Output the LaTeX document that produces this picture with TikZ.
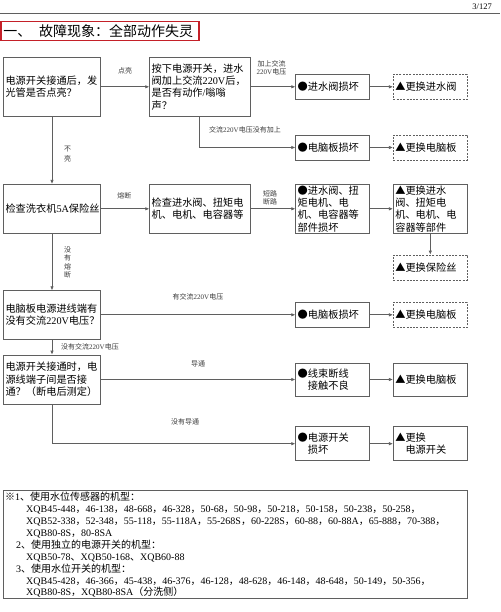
\documentclass[tikz,border=0pt]{standalone}
\usepackage{fontspec}
\setmainfont{Liberation Serif}
\newfontfamily\cjkfont{Noto Sans CJK SC}
\usetikzlibrary{arrows.meta}
% automatic switch between Latin (Liberation Serif) and CJK (Noto Sans CJK SC)
\XeTeXinterchartokenstate=1
\newXeTeXintercharclass\mycjkclass
\newcount\mycnt
\def\setcjkrange#1#2{\mycnt=#1\relax
  \loop\XeTeXcharclass\mycnt=\mycjkclass\relax
  \ifnum\mycnt<#2\relax\advance\mycnt by 1\relax\repeat}
\setcjkrange{"4E00}{"9FFF}
\setcjkrange{"3000}{"303F}
\setcjkrange{"FF00}{"FFEF}
\XeTeXcharclass"203B=\mycjkclass
\XeTeXcharclass"25CF=\mycjkclass
\XeTeXcharclass"25B2=\mycjkclass
\XeTeXinterchartoks 0 \mycjkclass = {\cjkfont}
\XeTeXinterchartoks 4095 \mycjkclass = {\cjkfont}
\XeTeXinterchartoks \mycjkclass 0 = {\rmfamily}
\XeTeXinterchartoks \mycjkclass 4095 = {\rmfamily}
\definecolor{linegray}{RGB}{95,95,95}
\definecolor{titlered}{RGB}{196,32,40}
\definecolor{labelgray}{RGB}{60,60,60}
\begin{document}
\begin{tikzpicture}[x=1pt,y=-1pt,
  box/.style={draw=linegray, line width=0.7pt, inner xsep=2pt, inner ysep=0pt,
    align=left, font=\fontsize{10.2}{12.3}\selectfont, text=black},
  dbox/.style={dash pattern=on 2pt off 1.3pt},
  lbox/.style={box, minimum width=97pt, text width=93pt},
  mbox/.style={box, minimum width=100.3pt, text width=96.3pt},
  cbox/.style={box, minimum width=73.6pt, text width=69.6pt},
  rbox/.style={box, minimum width=74pt, text width=70pt},
  lbl/.style={inner sep=0pt, font=\fontsize{7}{8}\selectfont, text=labelgray, align=center},
  arr/.style={draw=linegray, line width=0.7pt, -{Latex[length=4pt,width=3.4pt]}},
  notetext/.style={inner sep=0pt, anchor=base west, font=\fontsize{10}{12}\selectfont}
]
\useasboundingbox (0,0) rectangle (500,612);
\fill[white] (0,0) rectangle (500,612);

% header
\coordinate (tl) at (0,13.3);
\coordinate (tr) at (500,13.3);
\draw[linegray, line width=0.8pt] (tl) -- (tr);
\node[anchor=base east, inner sep=0pt, font=\fontsize{8.5}{10}\selectfont] (pg) at (492,9.5) {3/127};
\node[draw=titlered, line width=1.8pt, minimum width=198pt, minimum height=19pt,
  text width=194pt, inner xsep=2pt, inner ysep=0pt, align=left,
  font=\fontsize{14}{16}\selectfont] (title) at (100.25,31) {一、\hspace{8pt}故障现象：全部动作失灵};

% boxes
\node[lbox, minimum height=58.3pt] (A) at (52,86.8) {电源开关接通后，发\\光管是否点亮？};
\node[mbox, minimum height=58.3pt] (B) at (199.8,86.8) {按下电源开关，进水\\阀加上交流220V后，\\是否有动作/嗡嗡\\声？};
\node[cbox, minimum height=25pt] (C) at (332.5,86.8) {●进水阀损坏};
\node[rbox, dbox, minimum height=25pt] (D) at (430.3,86.8) {▲更换进水阀};
\node[cbox, minimum height=25pt] (E) at (332.5,147.5) {●电脑板损坏};
\node[rbox, dbox, minimum height=25pt] (F) at (430.3,147.5) {▲更换电脑板};

\node[lbox, minimum height=49pt] (G) at (52,208.8) {检查洗衣机5A保险丝};
\node[mbox, minimum height=49pt] (H) at (199.8,208.8) {检查进水阀、扭矩电\\机、电机、电容器等};
\node[cbox, minimum height=49pt] (I) at (332.5,208.8) {●进水阀、扭\\矩电机、电\\机、电容器等\\部件损坏};
\node[rbox, minimum height=49pt] (J) at (430.3,208.8) {▲更换进水\\阀、扭矩电\\机、电机、电\\容器等部件};
\node[rbox, dbox, minimum height=25pt] (K) at (430.3,267.5) {▲更换保险丝};

\node[lbox, minimum height=48.3pt] (L) at (52,314.8) {电脑板电源进线端有\\没有交流220V电压？};
\node[cbox, minimum height=25pt] (M) at (332.5,314.8) {●电脑板损坏};
\node[rbox, dbox, minimum height=25pt] (N) at (430.3,314.8) {▲更换电脑板};

\node[lbox, minimum height=49pt] (O) at (52,379.5) {电源开关接通时，电\\源线端子间是否接\\通？（断电后测定）};
\node[cbox, minimum height=33.3pt] (P) at (332.5,379.5) {●线束断线\\\hspace*{1em}接触不良};
\node[rbox, minimum height=33.3pt] (Q) at (430.3,379.5) {▲更换电脑板};

\node[cbox, minimum height=34pt] (R) at (332.5,443.7) {●电源开关\\\hspace*{1em}损坏};
\node[rbox, minimum height=34pt] (S) at (430.3,443.7) {▲更换\\\hspace*{1em}电源开关};

% connectors
\draw[arr] (A) -- (B);
\draw[arr] (B) -- (C);
\draw[arr] (C) -- (D);
\draw[arr] (B.south) |- (E.west);
\draw[arr] (E) -- (F);
\draw[arr] (A) -- (G);
\draw[arr] (G) -- (H);
\draw[arr] (H) -- (I);
\draw[arr] (I) -- (J);
\draw[arr] (J) -- (K);
\draw[arr] (G) -- (L);
\draw[arr] (L) -- (M);
\draw[arr] (M) -- (N);
\draw[arr] (L) -- (O);
\draw[arr] (O) -- (P);
\draw[arr] (P) -- (Q);
\draw[arr] (O.south) |- (R.west);
\draw[arr] (R) -- (S);

% labels
\node[lbl] (l1) at (125,71) {点亮};
\node[lbl, font=\fontsize{7}{7.8}\selectfont] (l2) at (271.5,67.5) {加上交流\\220V电压};
\node[lbl, anchor=west] (l3) at (209,130) {交流220V电压没有加上};
\node[lbl, font=\fontsize{7}{9.5}\selectfont] (l4) at (67.5,154) {不\\亮};
\node[lbl] (l5) at (124.3,196) {熔断};
\node[lbl, font=\fontsize{7}{7.7}\selectfont] (l6) at (270,198) {短路\\断路};
\node[lbl, font=\fontsize{7}{8.3}\selectfont] (l7) at (67.5,262.5) {没\\有\\熔\\断};
\node[lbl] (l8) at (198,297.3) {有交流220V电压};
\node[lbl, anchor=west] (l9) at (61,347.3) {没有交流220V电压};
\node[lbl] (l10) at (198,364) {导通};
\node[lbl] (l11) at (185,421.7) {没有导通};

% note box
\node[draw=linegray, line width=0.7pt, minimum width=463.7pt, minimum height=108pt, inner sep=0pt] (notebox) at (235.2,544) {};
\node[notetext] (n1) at (5,500.3) {※1、使用水位传感器的机型：};
\node[notetext] (n2) at (26,512.3) {XQB45-448，46-138，48-668，46-328，50-68，50-98，50-218，50-158，50-238，50-258，};
\node[notetext] (n3) at (26,524.2) {XQB52-338，52-348，55-118，55-118A，55-268S，60-228S，60-88，60-88A，65-888，70-388，};
\node[notetext] (n4) at (26,536.2) {XQB80-8S，80-8SA};
\node[notetext] (n5) at (16,548.1) {2、使用独立的电源开关的机型：};
\node[notetext] (n6) at (26,560.1) {XQB50-78、XQB50-168、XQB60-88};
\node[notetext] (n7) at (16,572) {3、使用水位开关的机型：};
\node[notetext] (n8) at (26,584) {XQB45-428，46-366，45-438，46-376，46-128，48-628，46-148，48-648，50-149，50-356，};
\node[notetext] (n9) at (26,595.9) {XQB80-8S，XQB80-8SA（分洗侧）};
\end{tikzpicture}
\end{document}
